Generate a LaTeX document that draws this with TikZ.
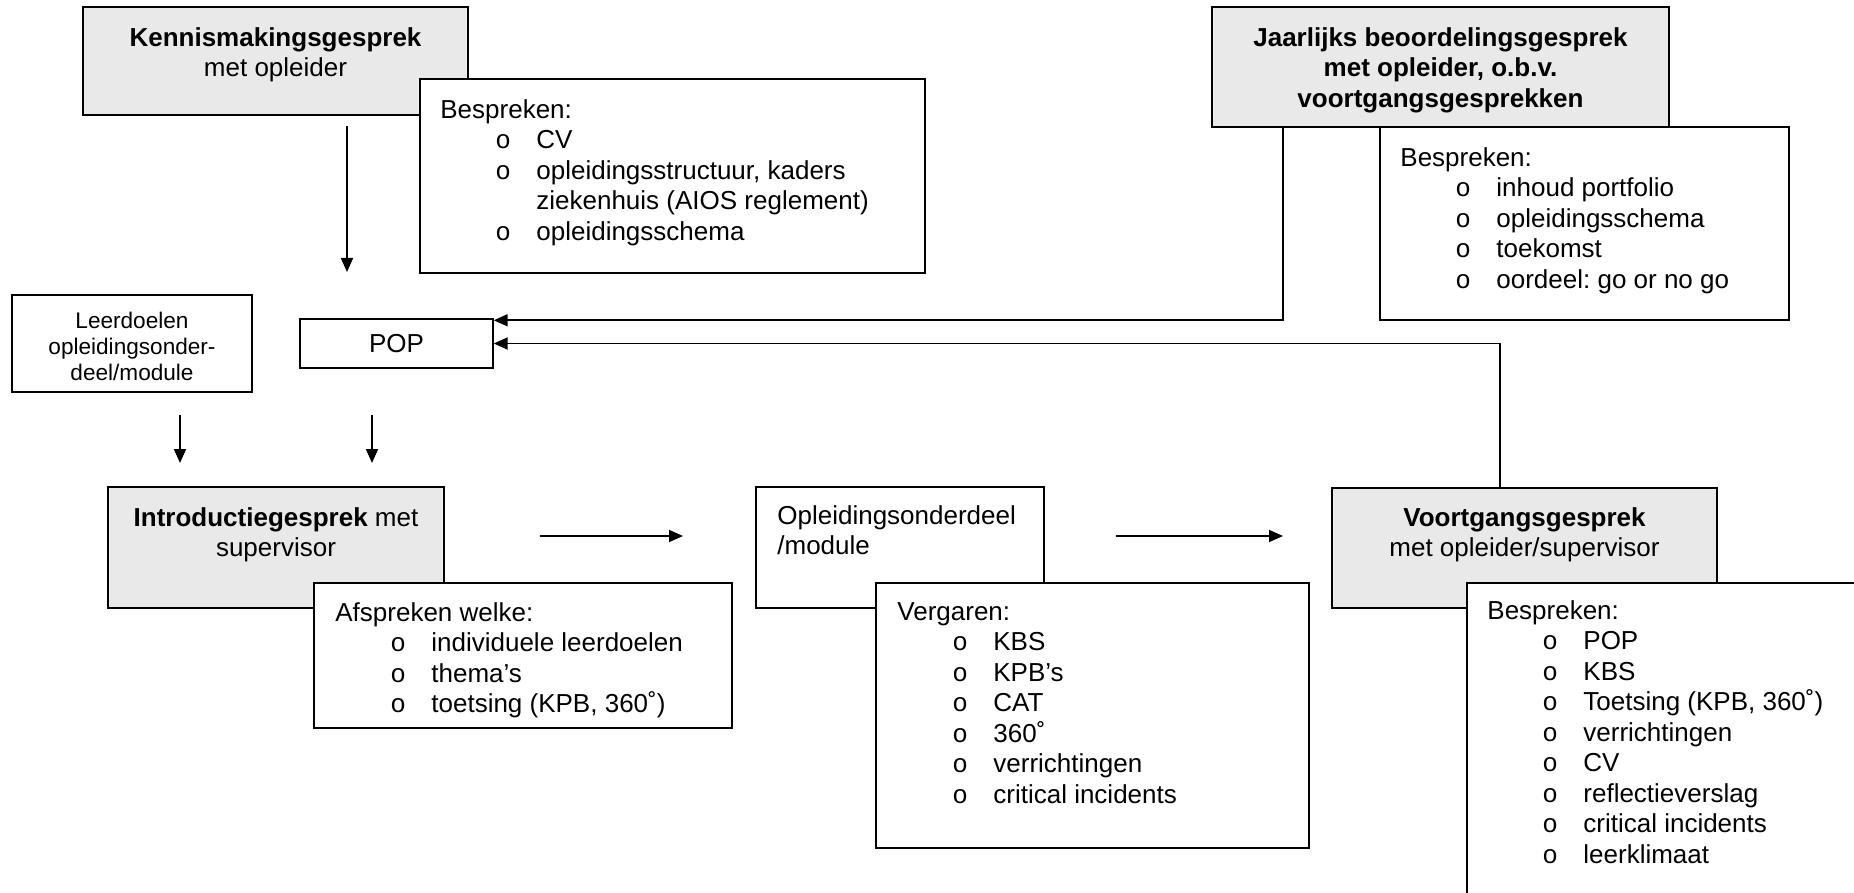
\documentclass[tikz,border=0pt]{standalone}
\usepackage{fontspec}
\setmainfont{Liberation Sans}
\newfontfamily\bulletfont{Liberation Mono}
\usetikzlibrary{arrows.meta}
\definecolor{boxgray}{HTML}{E9E9E9}
\frenchspacing
\newcommand{\itm}[1]{\hspace*{27.5pt}\makebox[20.5pt][l]{\bulletfont o}#1}
\newcommand{\cont}[1]{\hspace*{48pt}#1}

\begin{document}
\begin{tikzpicture}[x=0.5pt,y=-0.5pt,
    box/.style={draw,line width=0.7pt,fill=white,inner sep=0pt},
    graybox/.style={box,fill=boxgray},
    txt/.style={inner sep=0pt,align=left,font=\fontsize{13}{15.25}\selectfont},
    ctxt/.style={txt,align=center,anchor=north},
    ltxt/.style={txt,anchor=north west},
    arr/.style={line width=0.9pt,-{Triangle[length=7pt,width=6pt]}}]

            \useasboundingbox (0,0) rectangle (1854,893);
            \clip (0,0) rectangle (1854,893);

            %top left
            \node[graybox,minimum width=192.5pt,minimum height=54pt] (kennis) at (275.5,61) {};
            \node[ctxt] (kennistxt) at (275.5,27) {\textbf{Kennismakingsgesprek}\\met opleider};

            \node[box,minimum width=252.5pt,minimum height=97pt] (bespr1) at (672.5,176) {};
            \node[ltxt] (bespr1txt) at (440,99) {Bespreken:\\
                \itm{CV}\\
                \itm{opleidingsstructuur, kaders}\\
                \cont{ziekenhuis (AIOS reglement)}\\
                \itm{opleidingsschema}};

            %top right
            \node[graybox,minimum width=228.5pt,minimum height=60pt] (jaar) at (1440.5,67) {};
            \node[ctxt] (jaartxt) at (1440.5,27) {\textbf{Jaarlijks beoordelingsgesprek}\\
                \textbf{met opleider, o.b.v.}\\\textbf{voortgangsgesprekken}};

            \node[box,minimum width=204.5pt,minimum height=96.5pt] (bespr2) at (1584.5,223.5) {};
            \node[ltxt] (bespr2txt) at (1400,147) {Bespreken:\\
                \itm{inhoud portfolio}\\
                \itm{opleidingsschema}\\
                \itm{toekomst}\\
                \itm{oordeel: go or no go}};

            %middle
            \node[box,minimum width=120pt,minimum height=48.5pt] (leerdoel) at (132,343.5) {};
            \node[ctxt,font=\fontsize{11.3}{12.9}\selectfont] (leerdoeltxt) at (132,312) {Leerdoelen\\opleidingsonder-\\deel/module};

            \node[box,minimum width=96.5pt,minimum height=24.5pt,font=\fontsize{13}{15.25}\selectfont] (pop) at (396.5,343.5) {POP};

            %bottom
            \node[graybox,minimum width=168pt,minimum height=60.5pt] (intro) at (276,547.5) {};
            \node[ctxt] (introtxt) at (276,507) {\textbf{Introductiegesprek} met\\supervisor};

            \node[box,minimum width=209pt,minimum height=72.5pt] (afspr) at (523,655.5) {};
            \node[ltxt] (afsprtxt) at (335,602) {Afspreken welke:\\
                \itm{individuele leerdoelen}\\
                \itm{thema’s}\\
                \itm{toetsing (KPB, 360˚)}};

            \node[box,minimum width=144pt,minimum height=60.5pt] (module) at (900,547.5) {};
            \node[ltxt] (moduletxt) at (777,505) {Opleidingsonderdeel\\/module};

            \node[box,minimum width=216.5pt,minimum height=132.5pt] (verg) at (1092.5,715.5) {};
            \node[ltxt] (vergtxt) at (897,602) {Vergaren:\\
                \itm{KBS}\\
                \itm{KPB’s}\\
                \itm{CAT}\\
                \itm{360˚}\\
                \itm{verrichtingen}\\
                \itm{critical incidents}};

            \node[graybox,minimum width=192.5pt,minimum height=60pt] (voortg) at (1524.5,548) {};
            \node[ctxt] (voortgtxt) at (1524.5,507) {\textbf{Voortgangsgesprek}\\met opleider/supervisor};

            \node[box,minimum width=216.5pt,minimum height=183.5pt] (bespr3) at (1683.5,766.5) {};
            \node[ltxt] (bespr3txt) at (1487,600) {Bespreken:\\
                \itm{POP}\\
                \itm{KBS}\\
                \itm{Toetsing (KPB, 360˚)}\\
                \itm{verrichtingen}\\
                \itm{CV}\\
                \itm{reflectieverslag}\\
                \itm{critical incidents}\\
                \itm{leerklimaat}};

            %arrows
            \coordinate (k1) at (347,126);
            \coordinate (k2) at (347,272);
            \draw[arr] (k1)--(k2);

            \coordinate (l1) at (180,415);
            \coordinate (l2) at (180,463);
            \draw[arr] (l1)--(l2);

            \coordinate (p1) at (372,415);
            \coordinate (p2) at (372,463);
            \draw[arr] (p1)--(p2);

            \coordinate (i1) at (540,536);
            \coordinate (i2) at (683,536);
            \draw[arr] (i1)--(i2);

            \coordinate (m1) at (1116,536);
            \coordinate (m2) at (1283,536);
            \draw[arr] (m1)--(m2);

            \draw[arr] ([xshift=36pt]jaar.south west) |- ([yshift=-1pt]pop.north east);

            \draw[arr] ([xshift=-12.25pt]voortg.north) |- (pop.east);
        \end{tikzpicture}
\end{document}
